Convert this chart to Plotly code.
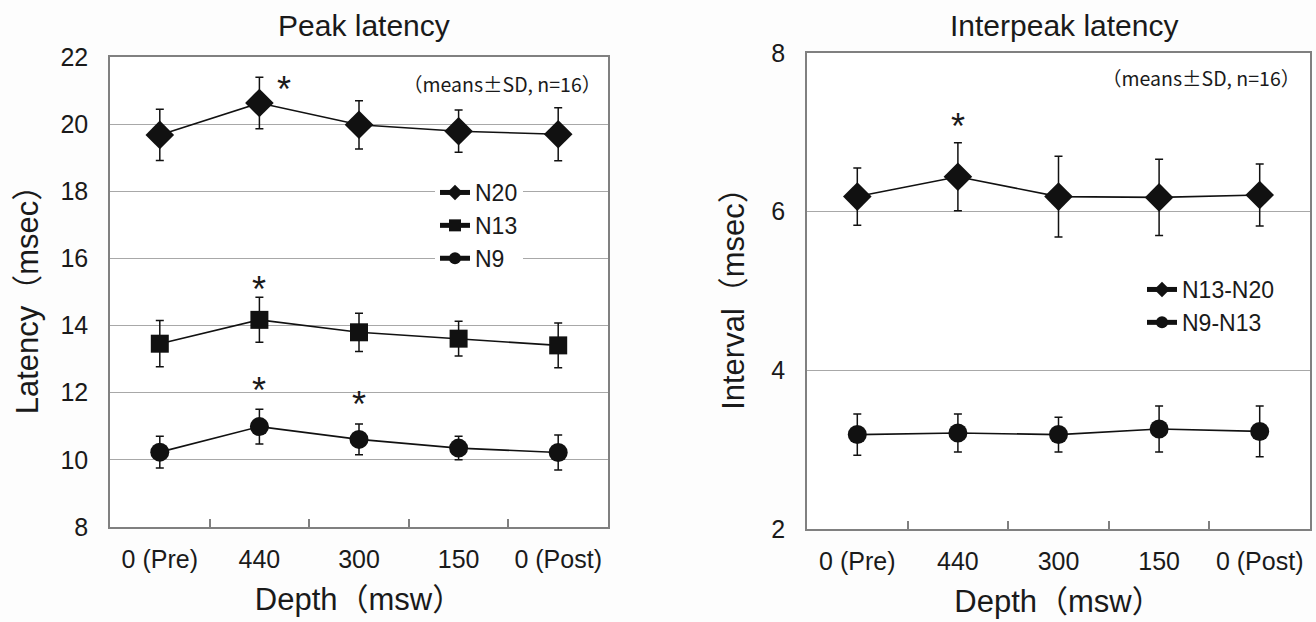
import plotly.graph_objects as go

# ---------------- data ----------------
depths = ["0 (Pre)", "440", "300", "150", "0 (Post)"]

n20_mean = [19.68, 20.63, 19.98, 19.79, 19.70]
n20_sd = [0.76, 0.77, 0.72, 0.63, 0.79]
n13_mean = [13.46, 14.17, 13.80, 13.61, 13.41]
n13_sd = [0.69, 0.67, 0.57, 0.52, 0.67]
n9_mean = [10.23, 10.99, 10.61, 10.35, 10.22]
n9_sd = [0.47, 0.52, 0.46, 0.35, 0.52]

n13_n20_mean = [6.19, 6.44, 6.19, 6.18, 6.21]
n13_n20_sd = [0.36, 0.43, 0.51, 0.48, 0.39]
n9_n13_mean = [3.19, 3.21, 3.19, 3.26, 3.23]
n9_n13_sd = [0.26, 0.24, 0.22, 0.29, 0.32]

# significance markers (index of depth)
sig_n20 = [1]
sig_n13 = [1]
sig_n9 = [1, 2]
sig_n13_n20 = [1]

left_title = "Peak latency"
right_title = "Interpeak latency"
note_text = "（means±SD, n=16）"

# ---------------- style ----------------
FONT = "Liberation Sans, Arial, Noto Sans CJK JP, sans-serif"
CJK = "Noto Sans CJK JP, sans-serif"
TXT = "#1a1a1a"
FRAME = "#808080"
GRID = "#a8a8a8"
W, H = 1316, 622

def px_x(v):
    return v / W

def px_y(v):
    return 1 - v / H

fig = go.Figure()

def add_series(name, mean, sd, symbol, size, xa, ya, legend):
    fig.add_trace(go.Scatter(
        x=depths, y=mean, name=name,
        mode="lines+markers",
        line=dict(color="#111111", width=1.6),
        marker=dict(symbol=symbol, size=size, color="#111111"),
        error_y=dict(type="data", array=sd, visible=True, color="#111111",
                     thickness=1.5, width=4),
        xaxis=xa, yaxis=ya, legend=legend,
    ))

add_series("N20", n20_mean, n20_sd, "diamond", 22, "x", "y", "legend")
add_series("N13", n13_mean, n13_sd, "square", 18, "x", "y", "legend")
add_series("N9", n9_mean, n9_sd, "circle", 19, "x", "y", "legend")
add_series("N13-N20", n13_n20_mean, n13_n20_sd, "diamond", 22, "x2", "y2", "legend2")
add_series("N9-N13", n9_n13_mean, n9_n13_sd, "circle", 19, "x2", "y2", "legend2")

# axes
common_x = dict(
    type="category", categoryorder="array", categoryarray=depths,
    range=[-0.5, len(depths) - 0.5],
    showgrid=False, zeroline=False, automargin=False,
    showline=True, mirror=True, linecolor=FRAME, linewidth=1.5,
    ticks="inside", tickson="boundaries", ticklen=8, tickcolor=FRAME, tickwidth=1.5,
    tickfont=dict(family=FONT, size=25, color=TXT),
    ticklabelstandoff=9,
    title=dict(text="Depth（msw）", font=dict(family=FONT, size=31, color=TXT), standoff=17),
)
common_y = dict(
    showgrid=True, gridcolor=GRID, gridwidth=1.2, zeroline=False, automargin=False,
    showline=True, mirror=True, linecolor=FRAME, linewidth=1.5,
    ticks="", tickfont=dict(family=FONT, size=25, color=TXT),
    ticklabelstandoff=15, dtick=2,
)

fig.update_layout(
    xaxis=dict(domain=[px_x(110), px_x(608)], anchor="y", **common_x),
    yaxis=dict(domain=[px_y(527), px_y(57)], anchor="x", range=[8, 22],
               title=dict(text="Latency（msec）", font=dict(family=FONT, size=31, color=TXT), standoff=13),
               **common_y),
    xaxis2=dict(domain=[px_x(807), px_x(1310)], anchor="y2", **common_x),
    yaxis2=dict(domain=[px_y(529), px_y(53)], anchor="x2", range=[2, 8],
                title=dict(text="Interval（msec）", font=dict(family=FONT, size=31, color=TXT), standoff=17),
                **common_y),
)

# legends
fig.update_layout(
    legend=dict(x=px_x(435), y=px_y(171), xanchor="left", yanchor="top",
                bgcolor="white", borderwidth=0, itemsizing="constant",
                font=dict(family=FONT, size=23, color=TXT), tracegroupgap=0),
    legend2=dict(x=px_x(1142), y=px_y(268), xanchor="left", yanchor="top",
                 bgcolor="rgba(0,0,0,0)", borderwidth=0, itemsizing="constant",
                 font=dict(family=FONT, size=23, color=TXT)),
)

annotations = []
# subplot titles
annotations.append(dict(text=left_title, x=px_x(364), y=px_y(25), xref="paper", yref="paper",
                        xanchor="center", yanchor="middle",
                        showarrow=False, font=dict(family=FONT, size=30, color=TXT)))
annotations.append(dict(text=right_title, x=px_x(1064), y=px_y(25), xref="paper", yref="paper",
                        xanchor="center", yanchor="middle",
                        showarrow=False, font=dict(family=FONT, size=30, color=TXT)))
# notes
annotations.append(dict(text=note_text, x=px_x(603), y=px_y(83), xref="paper", yref="paper",
                        xanchor="right", yanchor="middle", showarrow=False,
                        font=dict(family=CJK, size=19.5, color=TXT)))
annotations.append(dict(text=note_text, x=px_x(1302), y=px_y(78), xref="paper", yref="paper",
                        xanchor="right", yanchor="middle", showarrow=False,
                        font=dict(family=CJK, size=19.5, color=TXT)))

# asterisks
def star(i, mean, sd, xr, yr, xshift=0, yshift=14):
    annotations.append(dict(text="*", x=i, y=mean[i] + sd[i], xref=xr, yref=yr,
                            showarrow=False, xshift=xshift, yshift=yshift,
                            yanchor="middle",
                            font=dict(family=FONT, size=36, color=TXT)))

for i in sig_n20:
    star(i, n20_mean, n20_sd, "x", "y", xshift=25, yshift=-12)
for i in sig_n13:
    star(i, n13_mean, n13_sd, "x", "y", yshift=8)
for i in sig_n9:
    star(i, n9_mean, n9_sd, "x", "y", yshift=19)
for i in sig_n13_n20:
    star(i, n13_n20_mean, n13_n20_sd, "x2", "y2", yshift=16)

fig.update_layout(
    annotations=annotations,
    width=W, height=H,
    margin=dict(l=0, r=0, t=0, b=0),
    paper_bgcolor="#fdfdfd", plot_bgcolor="white",
    showlegend=True,
    font=dict(family=FONT, color=TXT),
)

fig.write_html("out.html", config={"displayModeBar": False},
               post_script="document.body.style.margin='0';")
